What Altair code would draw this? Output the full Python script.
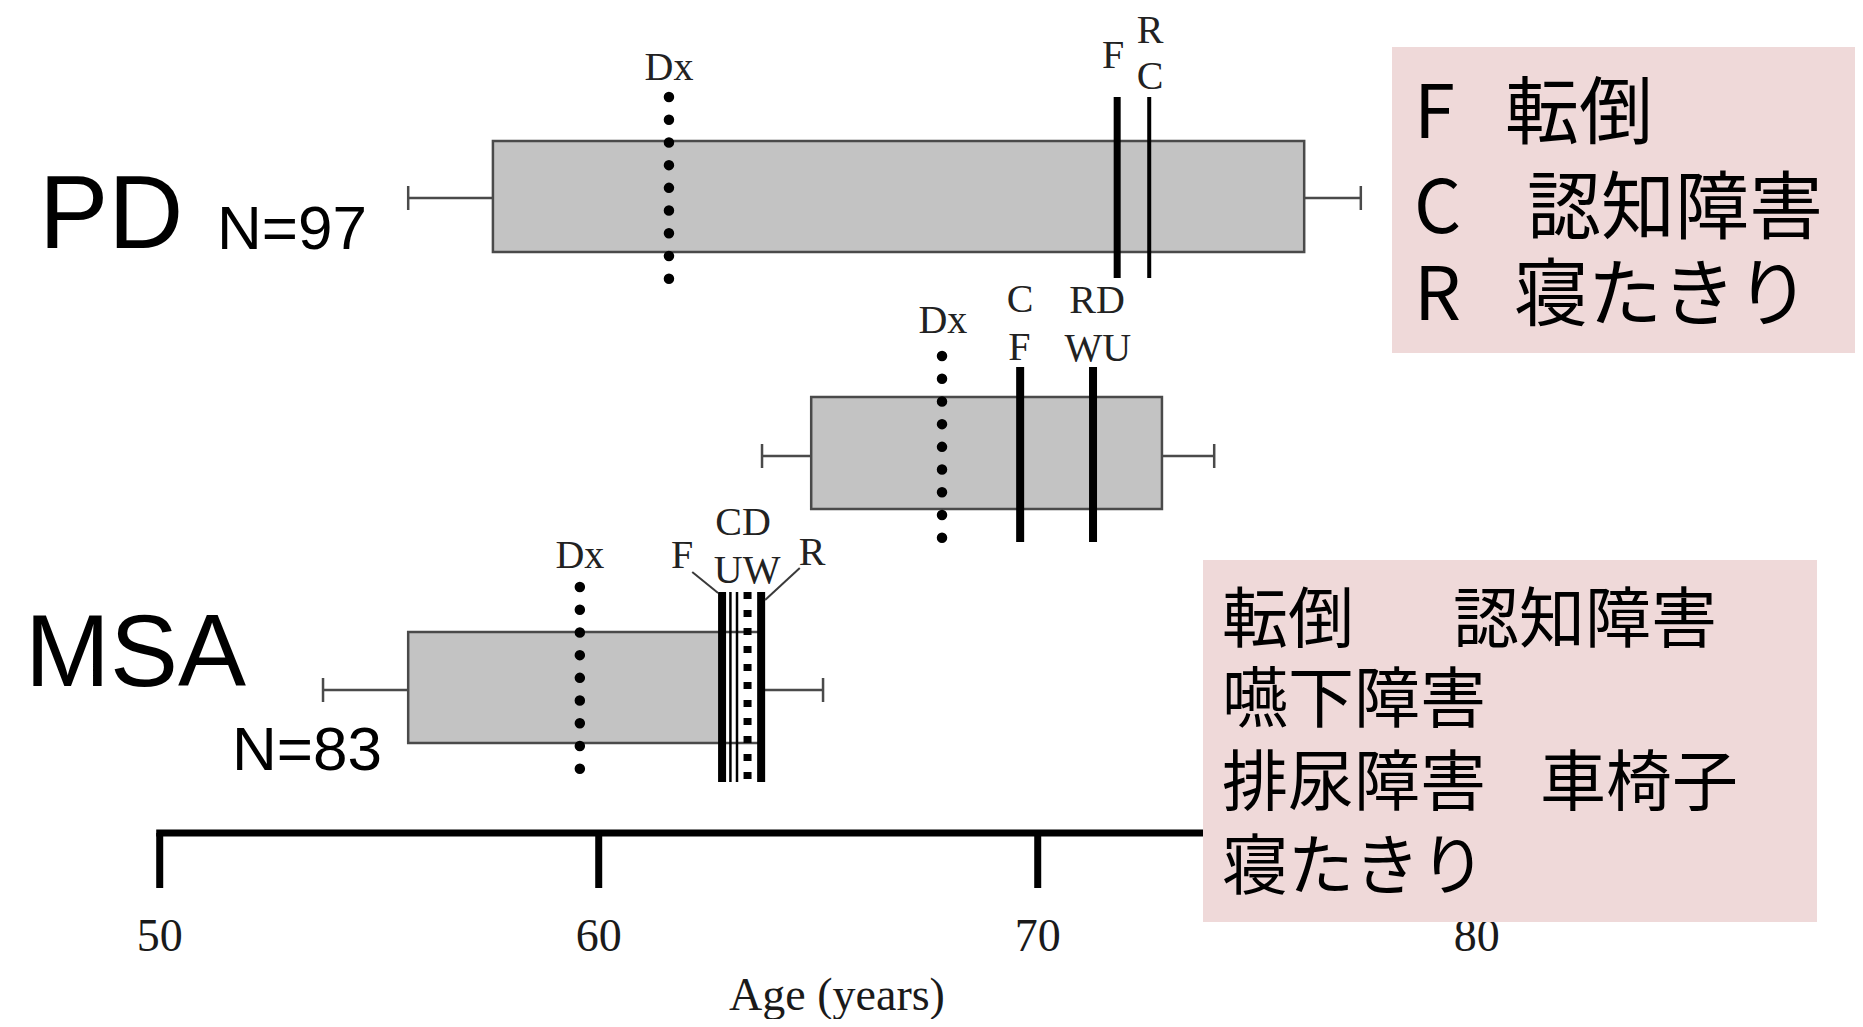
import altair as alt
import pandas as pd

# ---------------- data (ages in years) ----------------
groups = ["PD", "MID", "MSA"]
group_label = ["PD", "", "MSA"]
n_label = ["N=97", "", "N=83"]
whisker_low = [55.66, 63.72, 53.72]
box_low = [57.59, 64.84, 55.66]
box_high = [76.07, 72.83, 63.65]
whisker_high = [77.36, 74.02, 65.11]
dx_age = [61.60, 67.82, 59.57]

event_group = ["PD", "PD", "MID", "MID", "MSA", "MSA", "MSA", "MSA", "MSA"]
event_code = ["F", "RC", "CF", "RDWU", "F", "C", "U", "DW", "R"]
event_age = [71.81, 72.54, 69.60, 71.26, 62.81, 63.00, 63.15, 63.39, 63.70]

label_group = ["PD", "PD", "PD", "PD", "MID", "MID", "MID", "MID", "MID",
               "MSA", "MSA", "MSA", "MSA", "MSA"]
label_text = ["Dx", "F", "R", "C", "Dx", "C", "F", "RD", "WU",
              "Dx", "F", "CD", "UW", "R"]
label_age = [61.60, 71.72, 72.56, 72.56, 67.84, 69.60, 69.58, 71.35, 71.37,
             59.57, 61.90, 63.29, 63.38, 64.86]

# MSA leader lines (from label to line top), ages
leader_from = [62.13, 64.58]
leader_to = [62.72, 63.79]

tick_values = [50, 60, 70, 80]
tick_labels = ["50", "60", "70", "80"]
axis_title = "Age (years)"

legend_top_code = ["F", "C", "R"]
legend_top_text = ["転倒", "認知障害", "寝たきり"]
legend_bottom_text = ["転倒", "認知障害", "嚥下障害", "排尿障害", "車椅子", "寝たきり"]

# ---------------- layout (page pixels) ----------------
OFF = 8
W, H = 1847, 1011


def py(v):
    return v - OFF


row_geom = {
    "PD": dict(box=(141, 252), whisk=198, line=(97, 278), dx=97),
    "MID": dict(box=(397, 509), whisk=456, line=(367, 542), dx=356),
    "MSA": dict(box=(632, 743), whisk=690, line=(592, 782), dx=587),
}
label_baseline = [80, 68, 43, 89, 333, 312, 360, 313, 361, 568, 568, 535, 583, 565]
leader_y = [(572, 593), (568, 600)]
event_style = [
    dict(strokeWidth=7), dict(strokeWidth=4),
    dict(strokeWidth=8), dict(strokeWidth=8),
    dict(strokeWidth=8), dict(strokeWidth=2.5), dict(strokeWidth=2.5),
    dict(strokeWidth=8, strokeDash=[7, 11]), dict(strokeWidth=8),
]
AXIS_Y = 833
TICK_LEN = 55
LABEL_BASE = 951
TITLE_BASE = 1010
TITLE_X = 837

xs = alt.Scale(domain=[46.544, 88.617], nice=False, zero=False)

df = pd.DataFrame(dict(group=groups, wl=whisker_low, bl=box_low, bh=box_high,
                       wh=whisker_high, dx=dx_age))
ev = pd.DataFrame(dict(group=event_group, code=event_code, age=event_age))
lb = pd.DataFrame(dict(group=label_group, text=label_text, age=label_age,
                       yb=label_baseline))
ticks = pd.DataFrame(dict(v=tick_values, t=tick_labels))


def X(field):
    return alt.X(field, scale=xs, axis=None)


layers = []

# axis drawn from the tick data through the x scale
axis_df = pd.DataFrame({"a": [tick_values[0]], "b": [tick_values[-1]]})
layers.append(alt.Chart(axis_df).mark_rule(color="black", strokeWidth=7, strokeCap="square").encode(
    x=X("a:Q"), x2="b:Q", y=alt.value(py(AXIS_Y))))
layers.append(alt.Chart(ticks).mark_rule(color="black", strokeWidth=7).encode(
    x=X("v:Q"), y=alt.value(py(AXIS_Y)), y2=alt.value(py(AXIS_Y + TICK_LEN))))
layers.append(alt.Chart(ticks).mark_text(font="Liberation Serif", fontSize=46, color="#1a1a1a",
                                         align="center", baseline="alphabetic").encode(
    x=X("v:Q"), text="t:N", y=alt.value(py(LABEL_BASE))))
layers.append(alt.Chart(pd.DataFrame({"t": [axis_title]})).mark_text(
    font="Liberation Serif", fontSize=46, color="#1a1a1a", align="center",
    baseline="alphabetic").encode(text="t:N", x=alt.value(TITLE_X - OFF), y=alt.value(py(TITLE_BASE))))

for g in groups:
    geo = row_geom[g]
    d = df[df.group == g]
    top, bot = geo["box"]
    wy = geo["whisk"]
    # whiskers
    for a, b in (("wl", "bl"), ("bh", "wh")):
        layers.append(alt.Chart(d).mark_rule(color="#4a4a4a", strokeWidth=2.5).encode(
            x=X(f"{a}:Q"), x2=f"{b}:Q", y=alt.value(py(wy))))
    for a in ("wl", "wh"):
        layers.append(alt.Chart(d).mark_rule(color="#4a4a4a", strokeWidth=2.5).encode(
            x=X(f"{a}:Q"), y=alt.value(py(wy - 12)), y2=alt.value(py(wy + 12))))
    # box
    layers.append(alt.Chart(d).mark_rect(fill="#c3c3c3", stroke="#4a4a4a", strokeWidth=2.5).encode(
        x=X("bl:Q"), x2="bh:Q", y=alt.value(py(top)), y2=alt.value(py(bot))))
    e = ev[ev.group == g]
    if g == "MSA":
        band = pd.DataFrame({"a": [e.age.min()], "b": [e.age.max()]})
        layers.append(alt.Chart(band).mark_rect(fill="white").encode(
            x=X("a:Q"), x2="b:Q",
            y=alt.value(py(top + 1.5)), y2=alt.value(py(bot - 1.5))))
    # Dx dotted line
    layers.append(alt.Chart(d).mark_rule(color="black", strokeWidth=10.5, strokeCap="round",
                                         strokeDash=[0.01, 22.7]).encode(
        x=X("dx:Q"), y=alt.value(py(geo["dx"])), y2=alt.value(py(geo["dx"] + 8 * 22.7 + 0.5))))
    # event lines
    lt, lbot = geo["line"]
    for i in e.index:
        st = event_style[i]
        layers.append(alt.Chart(ev.loc[[i]]).mark_rule(color="black", **st).encode(
            x=X("age:Q"), y=alt.value(py(lt)), y2=alt.value(py(lbot))))
    # labels
    for i in lb[lb.group == g].index:
        layers.append(alt.Chart(lb.loc[[i]]).mark_text(
            font="Liberation Serif", fontSize=40, color="#222222",
            align="center", baseline="alphabetic").encode(
            x=X("age:Q"), text="text:N", y=alt.value(py(lb.loc[i, "yb"]))))

# leader lines
for k in range(2):
    ld = pd.DataFrame({"a": [leader_from[k]], "b": [leader_to[k]]})
    layers.append(alt.Chart(ld).mark_rule(color="#3a3a3a", strokeWidth=2).encode(
        x=X("a:Q"), x2="b:Q",
        y=alt.value(py(leader_y[k][0])), y2=alt.value(py(leader_y[k][1]))))


def text_layer(txt, x, yb, size, font="Liberation Sans", align="left", color="black"):
    return alt.Chart(pd.DataFrame({"t": [txt]})).mark_text(
        font=font, fontSize=size, color=color, align=align, baseline="alphabetic").encode(
        text="t:N", x=alt.value(x - OFF), y=alt.value(py(yb)))


# group labels
layers.append(text_layer(group_label[0], 39, 248, 104))
layers.append(text_layer(n_label[0], 217, 249, 62))
layers.append(text_layer(group_label[2], 25, 686, 102))
layers.append(text_layer(n_label[2], 232, 770, 62))

# legend boxes
pink = "#efd9d9"
for (x0, x1, y0, y1) in ((1392, 1863, 47, 353), (1203, 1817, 560, 922)):
    layers.append(alt.Chart(pd.DataFrame({"k": [0]})).mark_rect(fill=pink).encode(
        x=alt.value(x0 - OFF), x2=alt.value(x1 - OFF),
        y=alt.value(py(y0)), y2=alt.value(py(y1))))

JP = "Noto Sans CJK JP"
top_rows = [(138, 1508), (233, 1530), (320, 1517)]
for k in range(3):
    yb, xk = top_rows[k]
    layers.append(text_layer(legend_top_code[k], 1414, yb, 74, font=JP))
    layers.append(text_layer(legend_top_text[k], xk - 3, yb, 74, font=JP))

bottom_pos = [(1222, 642), (1453, 642), (1222, 722), (1222, 805), (1540, 805), (1222, 889)]
for k, t in enumerate(legend_bottom_text):
    x, yb = bottom_pos[k]
    layers.append(text_layer(t, x, yb, 66, font=JP))

chart = alt.layer(*layers).properties(
    width=W, height=H,
    autosize=alt.AutoSizeParams(type="none"),
    padding={"left": 0, "top": 0, "right": 0, "bottom": 0},
    background="white",
).configure_view(stroke="transparent")

chart.save("out.html", embed_options={"renderer": "svg", "actions": False})
